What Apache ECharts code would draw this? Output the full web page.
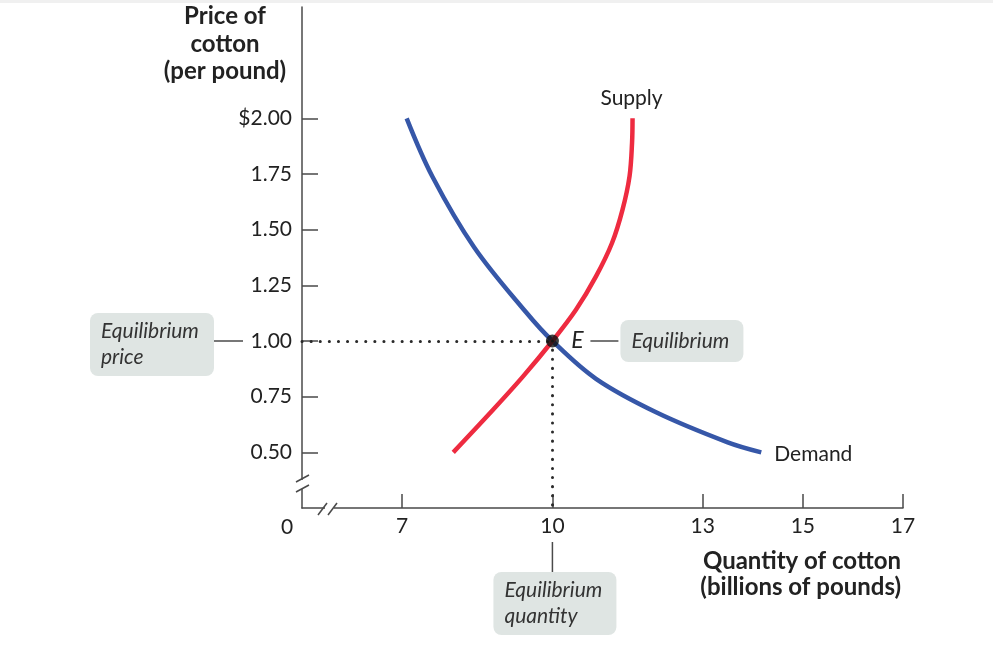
<!DOCTYPE html>
<html>
<head>
<meta charset="utf-8">
<script src="https://cdn.jsdelivr.net/npm/echarts@6/dist/echarts.min.js"></script>
<style>
  html, body { margin: 0; padding: 0; background: #fff; }
  #chart { width: 993px; height: 645px; }
</style>
</head>
<body>
<div id="chart"></div>
<script>
// values (quantity in billions of pounds, price in $ per pound)
const demandQty = [7.09, 7.6, 8.44, 9.47, 10, 10.87, 12.07, 13.5, 14.17];
const demandPrice = [2.0, 1.74, 1.42, 1.13, 1.0, 0.83, 0.68, 0.545, 0.5];
const supplyQty = [8.02, 8.81, 9.41, 10, 10.47, 10.87, 11.19, 11.4, 11.54, 11.59, 11.6];
const supplyPrice = [0.5, 0.69, 0.84, 1.0, 1.14, 1.29, 1.44, 1.59, 1.74, 1.89, 2.0];
const equilibrium = [10, 1.0];
const xTicks = [7, 10, 13, 15, 17];
const yTicks = [0.5, 0.75, 1.0, 1.25, 1.5, 1.75, 2.0];

const FONT = 'Lato';
const AXIS = '#4a4a4a';
const TEXT = '#222';
const BOX = '#dfe5e3';

const chart = echarts.init(document.getElementById('chart'), null, { renderer: 'canvas' });

const zip = (xs, ys) => xs.map((x, i) => [x, ys[i]]);

chart.setOption({
  animation: false,
  backgroundColor: '#fff',
  grid: { left: 302, right: 90, top: 7, bottom: 137, outerBoundsMode: 'none' },
  xAxis: {
    type: 'value',
    min: 5,
    max: 17,
    axisLine: { lineStyle: { color: AXIS, width: 1.5 } },
    axisTick: { show: true, inside: true, length: 14, customValues: xTicks, lineStyle: { color: AXIS, width: 1.5 } },
    axisLabel: { customValues: xTicks, color: TEXT, fontSize: 21, fontFamily: FONT, margin: 8 },
    splitLine: { show: false }
  },
  yAxis: {
    type: 'value',
    min: 0.25,
    max: 2.5,
    axisLine: { show: true, lineStyle: { color: AXIS, width: 1.5 } },
    axisTick: { show: true, inside: true, length: 16, customValues: yTicks, lineStyle: { color: AXIS, width: 1.5 } },
    axisLabel: {
      customValues: yTicks,
      color: TEXT, fontSize: 21, fontFamily: FONT, margin: 10,
      formatter: v => (v === 2 ? '$' : '') + v.toFixed(2)
    },
    splitLine: { show: false }
  },
  series: [
    {
      name: 'Demand',
      type: 'line',
      data: zip(demandQty, demandPrice),
      smooth: 0.35,
      symbol: 'none',
      lineStyle: { color: '#3657a8', width: 4.5 },
      z: 3
    },
    {
      name: 'Supply',
      type: 'line',
      data: zip(supplyQty, supplyPrice),
      smooth: 0.35,
      symbol: 'none',
      lineStyle: { color: '#ee2b40', width: 4.5 },
      z: 3
    },
    {
      name: 'E',
      type: 'scatter',
      data: [equilibrium],
      symbolSize: 13,
      itemStyle: { color: '#111' },
      z: 5,
      markLine: {
        silent: true,
        symbol: 'none',
        label: { show: false },
        lineStyle: { color: '#2a2a2a', width: 3, type: [0.1, 9], cap: 'round' },
        data: [
          [{ coord: [5, equilibrium[1]] }, { coord: equilibrium }],
          [{ coord: equilibrium }, { coord: [equilibrium[0], 0.25] }]
        ]
      }
    }
  ]
});

// annotations placed from axis/data positions
const px = p => chart.convertToPixel({ gridIndex: 0 }, p);
const o = px([5, 0.25]);
const e = px(equilibrium);
const sTop = px([supplyQty[supplyQty.length - 1], supplyPrice[supplyPrice.length - 1]]);
const dEnd = px([demandQty[demandQty.length - 1], demandPrice[demandPrice.length - 1]]);
const q = px([equilibrium[0], 0.25]);

const stroke = { stroke: AXIS, lineWidth: 1.5 };
const seg = (x1, y1, x2, y2) => ({ type: 'line', shape: { x1, y1, x2, y2 }, style: stroke, z: 20 });
const txt = (x, y, text, extra) => ({
  type: 'text', x, y, z: 20,
  style: Object.assign({ text, fill: TEXT, font: '21px ' + FONT, textVerticalAlign: 'middle' }, extra)
});
const box = (x, y, w, h, text, lh) => ({
  type: 'group', x, y, z: 15,
  children: [
    { type: 'rect', shape: { x: 0, y: 0, width: w, height: h, r: 8 }, style: { fill: BOX } },
    {
      type: 'text', x: 11, y: h / 2,
      style: { text, fill: '#333', font: 'italic 21px ' + FONT, lineHeight: lh, textVerticalAlign: 'middle' }
    }
  ]
});

chart.setOption({
  graphic: [
    // faint frame edge at the top of the figure
    { type: 'rect', shape: { x: 0, y: 0, width: 993, height: 3 }, style: { fill: '#f0f0f0' }, z: 1 },

    // axis breaks
    { type: 'rect', shape: { x: o[0] - 3, y: o[1] - 28, width: 6, height: 9 }, style: { fill: '#fff' }, z: 19 },
    seg(o[0] - 6, o[1] - 26, o[0] + 7, o[1] - 33),
    seg(o[0] - 6, o[1] - 16, o[0] + 7, o[1] - 23),
    { type: 'rect', shape: { x: o[0] + 23, y: o[1] - 3, width: 9, height: 6 }, style: { fill: '#fff' }, z: 19 },
    seg(o[0] + 16, o[1] + 7, o[0] + 25, o[1] - 5),
    seg(o[0] + 26, o[1] + 7, o[0] + 35, o[1] - 5),
    txt(o[0] - 15, o[1] + 19, '0', { textAlign: 'center' }),

    // axis titles
    txt(225, 3, 'Price of\ncotton\n(per pound)', {
      textAlign: 'center', textVerticalAlign: 'top', font: 'bold 24px ' + FONT, lineHeight: 27.5
    }),
    txt(901, 549, 'Quantity of cotton\n(billions of pounds)', {
      textAlign: 'right', textVerticalAlign: 'top', font: 'bold 24px ' + FONT, lineHeight: 25.5
    }),

    // curve labels
    txt(sTop[0] - 1, sTop[1] - 20, 'Supply', { textAlign: 'center' }),
    txt(dEnd[0] + 13, dEnd[1] + 2, 'Demand'),

    // equilibrium callouts
    txt(e[0] + 25, e[1], 'E', { textAlign: 'center', font: 'italic 23px ' + FONT }),
    seg(e[0] + 38, e[1], e[0] + 66, e[1]),
    box(e[0] + 68, e[1] - 21, 123, 42, 'Equilibrium', 26),
    seg(o[0] - 88, e[1], o[0] - 59, e[1]),
    box(o[0] - 212, e[1] - 28, 124, 63, 'Equilibrium\nprice', 26),
    seg(q[0], q[1] + 34, q[0], q[1] + 64),
    box(q[0] - 59, q[1] + 64, 123, 63, 'Equilibrium\nquantity', 26)
  ]
});
</script>
</body>
</html>
